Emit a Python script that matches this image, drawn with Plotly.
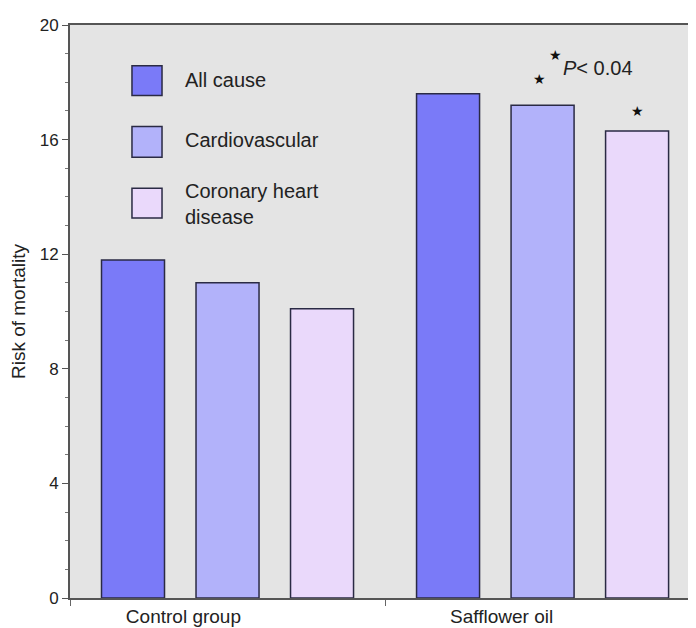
import plotly.graph_objects as go

categories = ["Control group", "Safflower oil"]
series_names = ["All cause", "Cardiovascular", "Coronary heart<br>disease"]
all_cause = [11.8, 17.6]
cardiovascular = [11.0, 17.2]
coronary = [10.1, 16.3]
series_values = [all_cause, cardiovascular, coronary]
colors = ["#7a7af8", "#b2b2fa", "#ead9fb"]
offsets = [-0.4, -0.1, 0.2]
label_pos = [-0.14, 0.87]
y_ticks = [0, 4, 8, 12, 16, 20]

FONT = "Liberation Sans, Arial, Helvetica, sans-serif"
x_num = [0, 1]

fig = go.Figure()
for name, vals, col, off in zip(series_names, series_values, colors, offsets):
    fig.add_trace(go.Bar(
        x=x_num, y=vals, name=name, width=0.2, offset=off,
        marker=dict(color=col, line=dict(color="#2a2a44", width=1.5)),
        showlegend=False,
    ))

# custom legend
leg_y = [(0.877, 0.929), (0.769, 0.823), (0.663, 0.715)]
leg_text_y = [0.904, 0.799, 0.6875]
for name, col, (y0, y1), ty in zip(series_names, colors, leg_y, leg_text_y):
    fig.add_shape(type="rect", xref="paper", yref="paper",
                  x0=0.099, x1=0.147, y0=y0, y1=y1,
                  fillcolor=col, line=dict(color="#2a2a44", width=1.5))
    fig.add_annotation(xref="paper", yref="paper", x=0.1805, y=ty,
                       text=name, showarrow=False, xanchor="left", yanchor="middle",
                       align="left", font=dict(family=FONT, size=20, color="#222"))

# significance markers
star_font = dict(family="DejaVu Sans", size=14, color="#111")
fig.add_annotation(x=0.99, y=18.1, text="★", showarrow=False, font=star_font)
fig.add_annotation(x=1.04, y=18.95, text="★", showarrow=False, font=star_font)
fig.add_annotation(x=1.3, y=17.0, text="★", showarrow=False, font=star_font)
fig.add_annotation(x=1.06, y=18.5, text="<i>P</i>< 0.04", showarrow=False,
                   xanchor="left", yanchor="middle",
                   font=dict(family=FONT, size=20, color="#222"))

fig.update_layout(
    width=696, height=628,
    margin=dict(l=62, r=8, t=14, b=38),
    paper_bgcolor="white", plot_bgcolor="#e4e4e4",
    barmode="overlay",
    font=dict(family=FONT, color="#222"),
    xaxis=dict(
        range=[-0.5, 1.487], tickmode="array", tickvals=label_pos, ticktext=categories,
        ticks="", showgrid=False, zeroline=False,
        showline=True, linecolor="#555", linewidth=2, mirror=True,
        tickfont=dict(size=19, family=FONT, color="#222"),
        minor=dict(ticks="outside", tickmode="linear", tick0=-0.5, dtick=1,
                   ticklen=6, tickcolor="#666", tickwidth=1),
    ),
    yaxis=dict(
        range=[0, 20], tickmode="array", tickvals=y_ticks,
        ticks="outside", ticklen=6, tickcolor="#555", tickwidth=1,
        showgrid=False, zeroline=False,
        showline=True, linecolor="#555", linewidth=2,
        tickfont=dict(size=17, family=FONT, color="#222"),
        minor=dict(ticks="outside", dtick=1, ticklen=3, tickcolor="#777", showgrid=False),
        title=dict(text="Risk of mortality", font=dict(size=19, family=FONT, color="#222"), standoff=10),
    ),
)

fig.write_html("out.html")
